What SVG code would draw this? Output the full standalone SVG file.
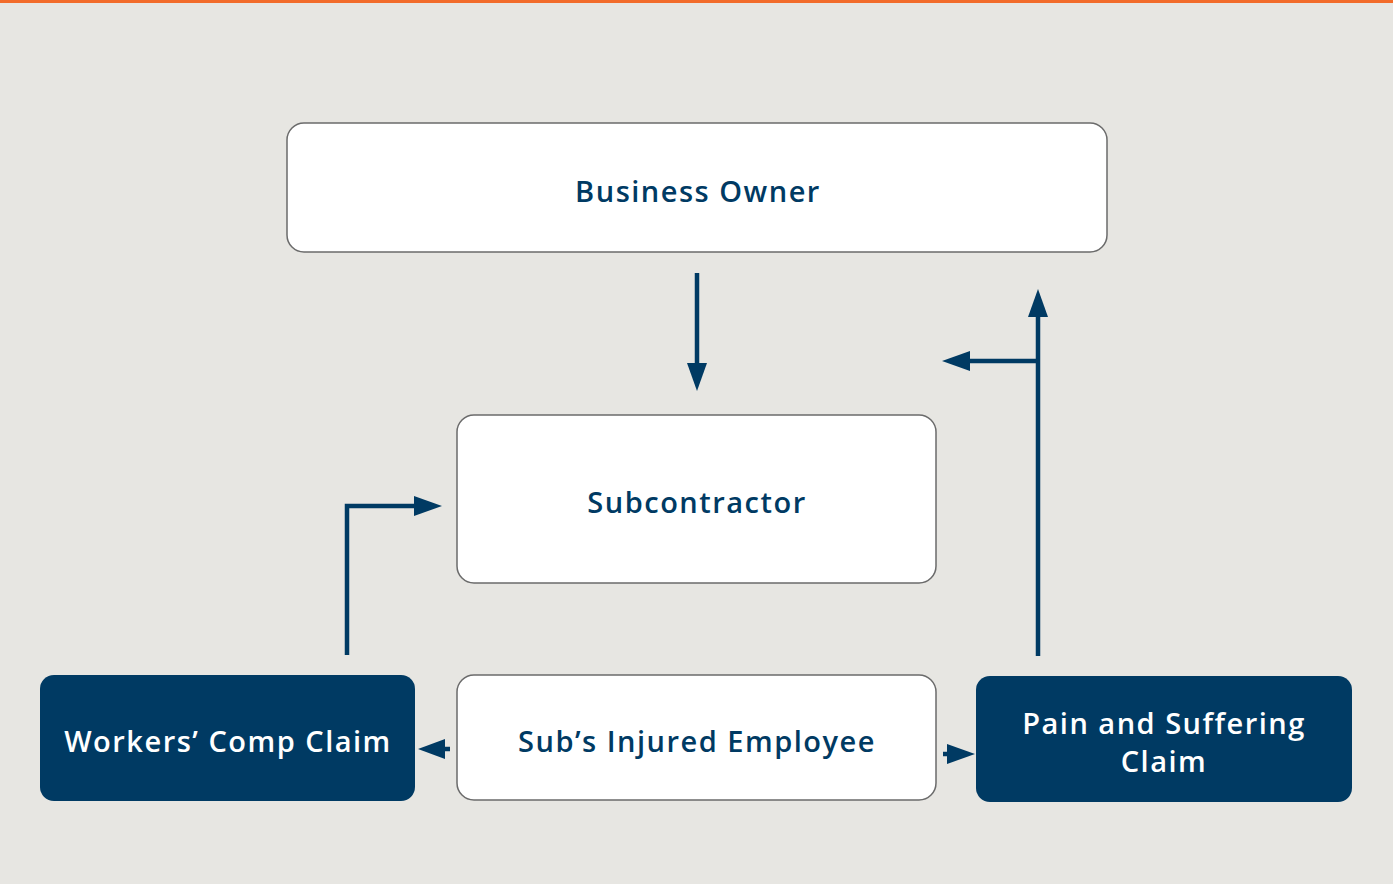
<svg xmlns="http://www.w3.org/2000/svg" width="1393" height="884" viewBox="0 0 1393 884">
<style>
.lbox{fill:#ffffff;stroke:#6b6b6b;stroke-width:1.5}
.dbox{fill:#003a63}
.t{font-family:"Open Sans","Noto Sans","Liberation Sans",sans-serif;font-weight:600;font-size:29px;letter-spacing:1.5px;text-anchor:middle;dominant-baseline:central}
.dt{fill:#003a63}
.wt{fill:#ffffff}
.ln{fill:none;stroke:#003a63;stroke-width:4.5}
.ah{fill:#003a63}
</style>
<rect x="0" y="0" width="1393" height="884" fill="#e7e6e2"/>
<rect x="0" y="0" width="1393" height="3" fill="#f26b2a"/>
<g id="connectors">
<line class="ln" x1="697" y1="273" x2="697" y2="366"/>
<polygon class="ah" points="687,363 707,363 697,391"/>
<line class="ln" x1="1038" y1="656" x2="1038" y2="314"/>
<polygon class="ah" points="1028,317 1048,317 1038,289"/>
<line class="ln" x1="1040" y1="361" x2="966" y2="361"/>
<polygon class="ah" points="970,351 970,371 942,361"/>
<polyline class="ln" points="347,655 347,506 418,506"/>
<polygon class="ah" points="414,496 414,516 442,506"/>
<line class="ln" x1="450" y1="749" x2="440" y2="749"/>
<polygon class="ah" points="445,739 445,759 418,749"/>
<line class="ln" x1="943" y1="754" x2="952" y2="754"/>
<polygon class="ah" points="947,744 947,764 975,754"/>
</g>
<g id="business-owner">
<rect class="lbox" x="287" y="123" width="820" height="129" rx="17"/>
<text class="t dt" x="698" y="190">Business Owner</text>
</g>
<g id="subcontractor">
<rect class="lbox" x="457" y="415" width="479" height="168" rx="17"/>
<text class="t dt" x="697" y="501">Subcontractor</text>
</g>
<g id="workers-comp">
<rect class="dbox" x="40" y="675" width="375" height="126" rx="14"/>
<text class="t wt" x="228" y="740">Workers’ Comp Claim</text>
</g>
<g id="injured-employee">
<rect class="lbox" x="457" y="675" width="479" height="125" rx="17"/>
<text class="t dt" x="697" y="740">Sub’s Injured Employee</text>
</g>
<g id="pain-suffering">
<rect class="dbox" x="976" y="676" width="376" height="126" rx="14"/>
<text class="t wt" x="1164" y="722">Pain and Suffering</text>
<text class="t wt" x="1164" y="760">Claim</text>
</g>
</svg>
